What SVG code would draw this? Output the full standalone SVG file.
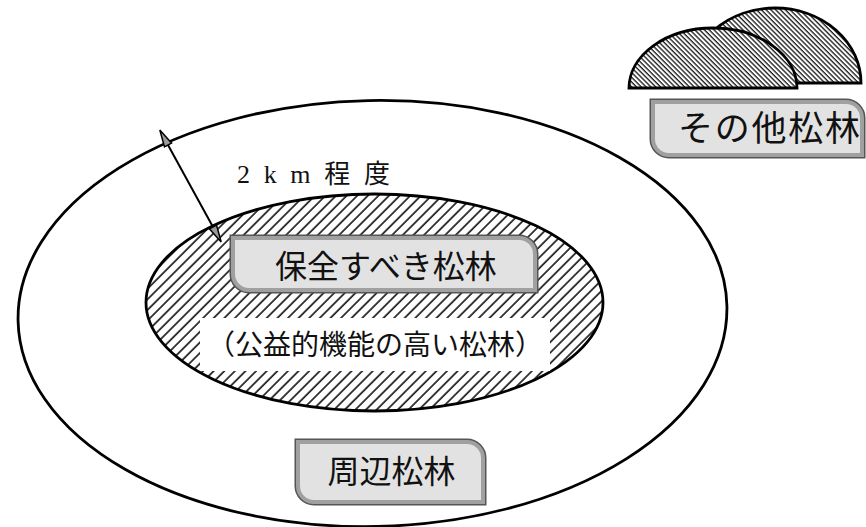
<svg xmlns="http://www.w3.org/2000/svg" width="866" height="527" viewBox="0 0 866 527">
<style>
.outline{fill:none;stroke:#000;stroke-width:2.8}
.lblo{fill:none;stroke:#555;stroke-width:7}
.lbl{fill:#e2e2e2;stroke:#a0a0a0;stroke-width:4}
.jp{font-family:"Noto Sans CJK JP","Noto Sans",sans-serif;fill:#111;text-anchor:middle}
.serif{font-family:"Liberation Serif","Noto Sans CJK JP",serif;fill:#111}
.arrow{stroke:#000;stroke-width:2;fill:none}
</style>
<defs>
<pattern id="hatchInner" width="7.5" height="7.5" patternUnits="userSpaceOnUse" patternTransform="rotate(45)">
<line x1="1" y1="0" x2="1" y2="7.5" stroke="#000" stroke-width="1.5"/>
</pattern>
<pattern id="hatchDome" width="3.4" height="3.4" patternUnits="userSpaceOnUse" patternTransform="rotate(-45)">
<line x1="1" y1="0" x2="1" y2="3.4" stroke="#000" stroke-width="1.2"/>
</pattern>
<marker id="ah" viewBox="-1 -6 20 12" refX="0" refY="0" markerWidth="20" markerHeight="12" markerUnits="userSpaceOnUse" orient="auto-start-reverse">
<path d="M17,0 L0,-4 L0,4 Z" fill="#999" stroke="#000" stroke-width="1.5"/>
</marker>
</defs>
<rect width="866" height="527" fill="#fff"/>

<g id="outer-area">
<ellipse cx="372.5" cy="313.5" rx="354.5" ry="213" class="outline" transform="rotate(-1.2 372.5 313.5)"/>
</g>

<g id="inner-area">
<ellipse cx="374.5" cy="302.5" rx="228.5" ry="108.5" fill="url(#hatchInner)" stroke="#000" stroke-width="2.8"/>
<rect x="200" y="318" width="350" height="53" fill="#fff"/>
<text x="375" y="355" class="jp" font-size="28">（公益的機能の高い松林）</text>
</g>

<g id="label-hozen">
<path d="M233,238 H519 A16,16 0 0 1 535,254 V290 H249 A16,16 0 0 1 233,274 Z" class="lblo"/>
<path d="M233,238 H519 A16,16 0 0 1 535,254 V290 H249 A16,16 0 0 1 233,274 Z" class="lbl"/>
<text x="386" y="278" class="jp" font-size="32">保全すべき松林</text>
</g>

<g id="label-shuhen">
<path d="M298,442 H467 A16,16 0 0 1 483,458 V502 H314 A16,16 0 0 1 298,486 Z" class="lblo"/>
<path d="M298,442 H467 A16,16 0 0 1 483,458 V502 H314 A16,16 0 0 1 298,486 Z" class="lbl"/>
<text x="391.5" y="483" class="jp" font-size="32">周辺松林</text>
</g>

<g id="other-forest">
<path d="M689,83 A86,75 0 0 1 861,83 Z" fill="url(#hatchDome)" stroke="#000" stroke-width="2.8"/>
<path d="M629,88 A84,60 0 0 1 797,88 Z" fill="#fff" stroke="none"/>
<path d="M629,88 A84,60 0 0 1 797,88 Z" fill="url(#hatchDome)" stroke="#000" stroke-width="2.8"/>
</g>

<g id="label-sonota">
<path d="M653,102 H846 A16,16 0 0 1 862,118 V155 H669 A16,16 0 0 1 653,139 Z" class="lblo"/>
<path d="M653,102 H846 A16,16 0 0 1 862,118 V155 H669 A16,16 0 0 1 653,139 Z" class="lbl"/>
<text x="769" y="141" class="jp" font-size="35" textLength="182" lengthAdjust="spacing">その他松林</text>
</g>

<g id="connectors">
<line x1="168" y1="145" x2="213" y2="227" class="arrow" marker-start="url(#ah)" marker-end="url(#ah)"/>
</g>

<g id="dimension-label">
<text x="237" y="183" class="serif" font-size="26" textLength="153" lengthAdjust="spacing">2 k m 程 度</text>
</g>
</svg>
